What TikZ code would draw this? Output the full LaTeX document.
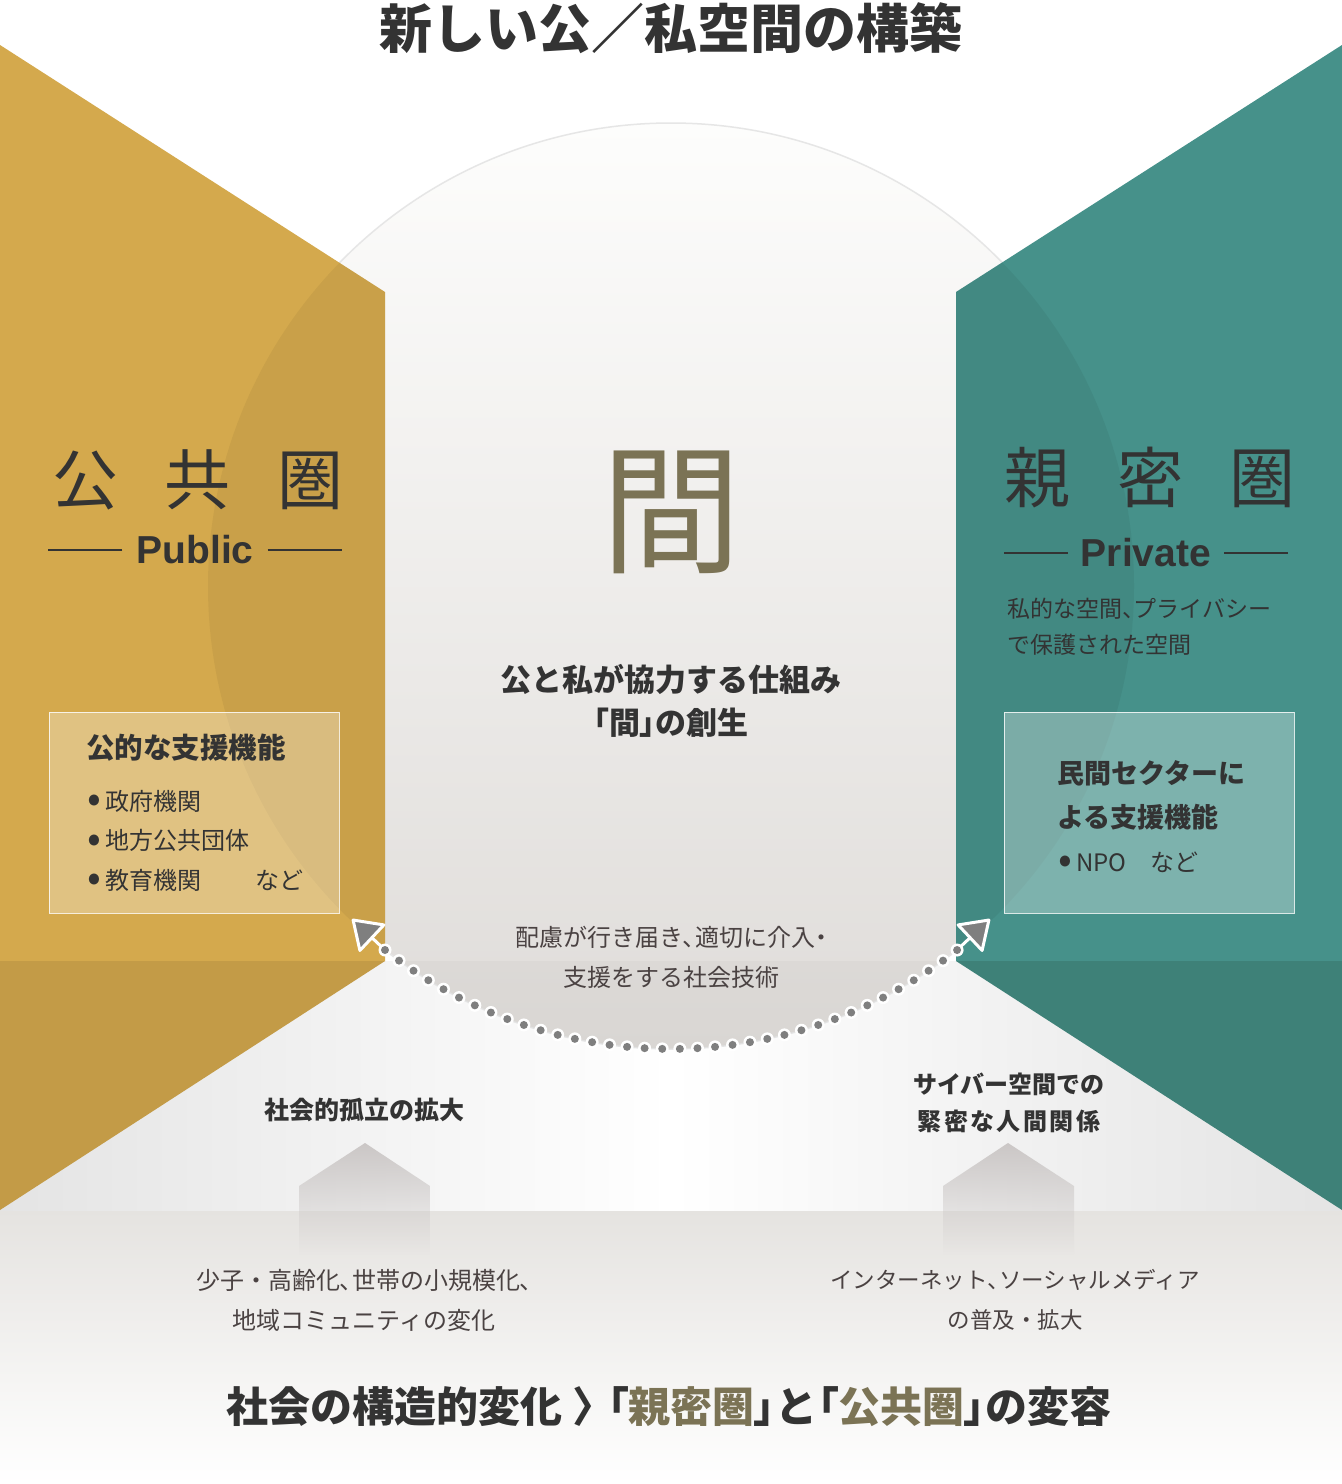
\documentclass[tikz,border=0pt]{standalone}
\usepackage{fontspec}
\setmainfont{Noto Sans CJK JP}
\newfontfamily\latinbold{Liberation Sans}
\usepackage{tikz}
\usetikzlibrary{positioning,arrows.meta,fadings,calc}

\definecolor{gold}{HTML}{D4A94D}
\definecolor{golddark}{HTML}{C39B47}
\definecolor{tealpanel}{HTML}{46918A}
\definecolor{tealdark}{HTML}{3E8178}
\definecolor{kanolive}{HTML}{7B7355}
\definecolor{ink}{HTML}{333333}
\definecolor{inkbrown}{HTML}{4A4242}
\definecolor{dotgray}{HTML}{7F7F7F}
\definecolor{housegray}{HTML}{CBC7C6}
\definecolor{circtop}{HTML}{FDFDFC}
\definecolor{circbot}{HTML}{DFDCD9}
\definecolor{circline}{HTML}{E6E6E6}
\definecolor{bandtop}{HTML}{E5E3E0}
\definecolor{lightedge}{HTML}{E4E4E4}

\newcommand{\fsz}[2]{\fontsize{#1}{#2}\selectfont}
\newcommand{\bul}{\makebox[18pt][l]{\raisebox{-0.1em}{\scalebox{1.7}{•}}}}
\newcommand{\palt}{\addfontfeature{RawFeature=+palt}}
\newcommand{\pq}[1]{{\palt #1}}

\tikzfading[name=housefade, top color=transparent!0, middle color=transparent!15, bottom color=transparent!100]

\begin{document}
\begin{tikzpicture}[
x=1pt, y=-1pt,
txt/.style={
  text=ink,
  inner sep=0pt,
  align=center
  },
body/.style={
  text=inkbrown,
  inner sep=0pt,
  align=center
  },
panelbox/.style={
  draw=white,
  draw opacity=0.8,
  fill=white,
  fill opacity=0.3,
  line width=1pt,
  minimum width=290pt,
  minimum height=201pt,
  inner sep=0pt
  },
rule/.style={
  draw=ink,
  line width=1.2pt
  },
dotsback/.style={
  draw=white,
  line width=13pt,
  line cap=round,
  dash pattern=on 0pt off 17.62pt
  },
dotsfront/.style={
  draw=dotgray,
  line width=8pt,
  line cap=round,
  dash pattern=on 0pt off 17.62pt
  },
tipline/.style={
  draw=white,
  line width=3pt,
  -{Triangle[length=30pt, width=40pt, fill=dotgray, round]}
  },
house/.style={
  fill=housegray,
  path fading=housefade
  }
]
\fill[white] (0,0) rectangle (1342,1484);
\useasboundingbox (0,0) rectangle (1342,1484);

% background bands
\shade[top color=bandtop, bottom color=white] (0,1210) rectangle (1342,1484);
\shade[left color=lightedge, right color=lightedge, middle color=white] (0,961) rectangle (1342,1210);

% the circle of the "ma"
\shadedraw[top color=circtop, bottom color=circbot, draw=circline, line width=1.5pt] (671,586) circle[radius=463];
\begin{scope}
  \clip (671,586) circle[radius=463];
  \fill[black, opacity=0.025] (385,961) rectangle (956,1100);
\end{scope}

% public / private panels
\fill[gold] (0,45) -- (385,292) -- (385,961) -- (0,961) -- cycle;
\fill[golddark] (0,961) -- (385,961) -- (0,1210) -- cycle;
\fill[tealpanel] (1342,45) -- (956,292) -- (956,961) -- (1342,961) -- cycle;
\fill[tealdark] (1342,961) -- (956,961) -- (1342,1210) -- cycle;
\begin{scope}
  \clip (0,45) -- (385,292) -- (385,961) -- (0,961) -- cycle
        (1342,45) -- (956,292) -- (956,961) -- (1342,961) -- cycle;
  \fill[black, opacity=0.05] (671,586) circle[radius=463];
\end{scope}

\node[panelbox] (pubbox) at (194,812.5) {};
\node[panelbox] (privbox) at (1149,812.5) {};

% dotted link between the two spheres
\coordinate (dotL) at (385,950);
\coordinate (dotR) at (957,950);
\coordinate (tipL) at (352,919);
\coordinate (tipR) at (990,919);
\draw[tipline] (dotL) -- (tipL);
\draw[tipline] (dotR) -- (tipR);
\draw[dotsback] (dotL) arc[start angle=128.16, end angle=51.84, radius=463];
\draw[dotsfront] (dotL) arc[start angle=128.16, end angle=51.84, radius=463];

\fill[house] (299,1255) -- (299,1186) -- (365,1143) -- (430,1186) -- (430,1255) -- cycle;
\fill[house] (943,1255) -- (943,1186) -- (1008,1143) -- (1074,1186) -- (1074,1255) -- cycle;

\node[txt, font=\fsz{53}{60}\bfseries] (title) at (671,28) {新しい公／私空間の構築};

\node[txt, font=\fsz{66}{70}] (pubhead) at (198,480) {公\hspace{47pt}共\hspace{47pt}圏};
\node[txt, font=\latinbold\fsz{39}{44}\bfseries] (pubword) at (195,550) {Public};
\draw[rule] ([xshift=-14pt]pubword.west) -- ++(-74,0);
\draw[rule] ([xshift=14pt]pubword.east) -- ++(74,0);

\node[txt, font=\fsz{66}{70}] (privhead) at (1150,478) {親\hspace{47pt}密\hspace{47pt}圏};
\node[txt, font=\latinbold\fsz{39}{44}\bfseries] (privword) at (1146,553) {Private};
\draw[rule] ([xshift=-13pt]privword.west) -- ++(-64,0);
\draw[rule] ([xshift=13pt]privword.east) -- ++(64,0);
\node[txt, anchor=west, align=left, font=\fsz{23}{36}] (privnote) at (1007,627) {私的な空間\pq{、}プライバシー\\で保護された空間};

\node[inner sep=0pt, text=kanolive, font=\fsz{140}{140}] (ma) at (671,512) {間};
\node[txt, font=\fsz{31}{43}\bfseries] (kyodo) at (671,701) {公と私が協力する仕組み\\\pq{「間」の創生}};

\node[txt, anchor=west, font=\fsz{28.5}{30}\bfseries] (pubfn) at (86,748) {公的な支援機能};
\node[txt, anchor=west, align=left, font=\fsz{24}{39.5}] (publist) at (87,841) {\bul 政府機関\\\bul 地方公共団体\\\bul 教育機関\hspace{54pt}など};

\node[txt, anchor=west, align=left, font=\fsz{27}{44}\bfseries] (privfn) at (1057,795) {民間セクターに\\よる支援機能};
\node[txt, anchor=west, font=\fsz{24}{30}] (privlist) at (1058,863) {\bul NPO\hspace{24pt}など};

\node[body, font=\fsz{24}{40}] (gijutsu) at (671,957) {配慮が行き届き\pq{、}適切に介入\pq{・}\\支援をする社会技術};

\node[txt, font=\fsz{25}{30}\bfseries] (koritsu) at (364,1110) {社会的孤立の拡大};
\node[txt, font=\fsz{24}{37}\bfseries] (cyber) at (1009,1103) {サイバー空間での\\緊\kern2.5pt 密\kern2.5pt な\kern2.5pt 人\kern2.5pt 間\kern2.5pt 関\kern2.5pt 係};
\node[body, font=\fsz{24}{40}] (shoshi) at (364,1300) {少子・高齢化\pq{、}世帯の小規模化\pq{、}\\地域コミュニティの変化};
\node[body, font=\fsz{22.5}{40}] (sns) at (1015,1300) {インターネット\pq{、}ソーシャルメディア\\の普及・拡大};

\node[txt, font=\fsz{42}{44}\bfseries] (henyo) at (669,1407) {社会の構造的変化\hspace{12pt}\pq{〉}\hspace{12pt}\pq{「}\textcolor{kanolive}{親密圏}\pq{」}と\pq{「}\textcolor{kanolive}{公共圏}\pq{」}の変容};
\end{tikzpicture}
\end{document}
